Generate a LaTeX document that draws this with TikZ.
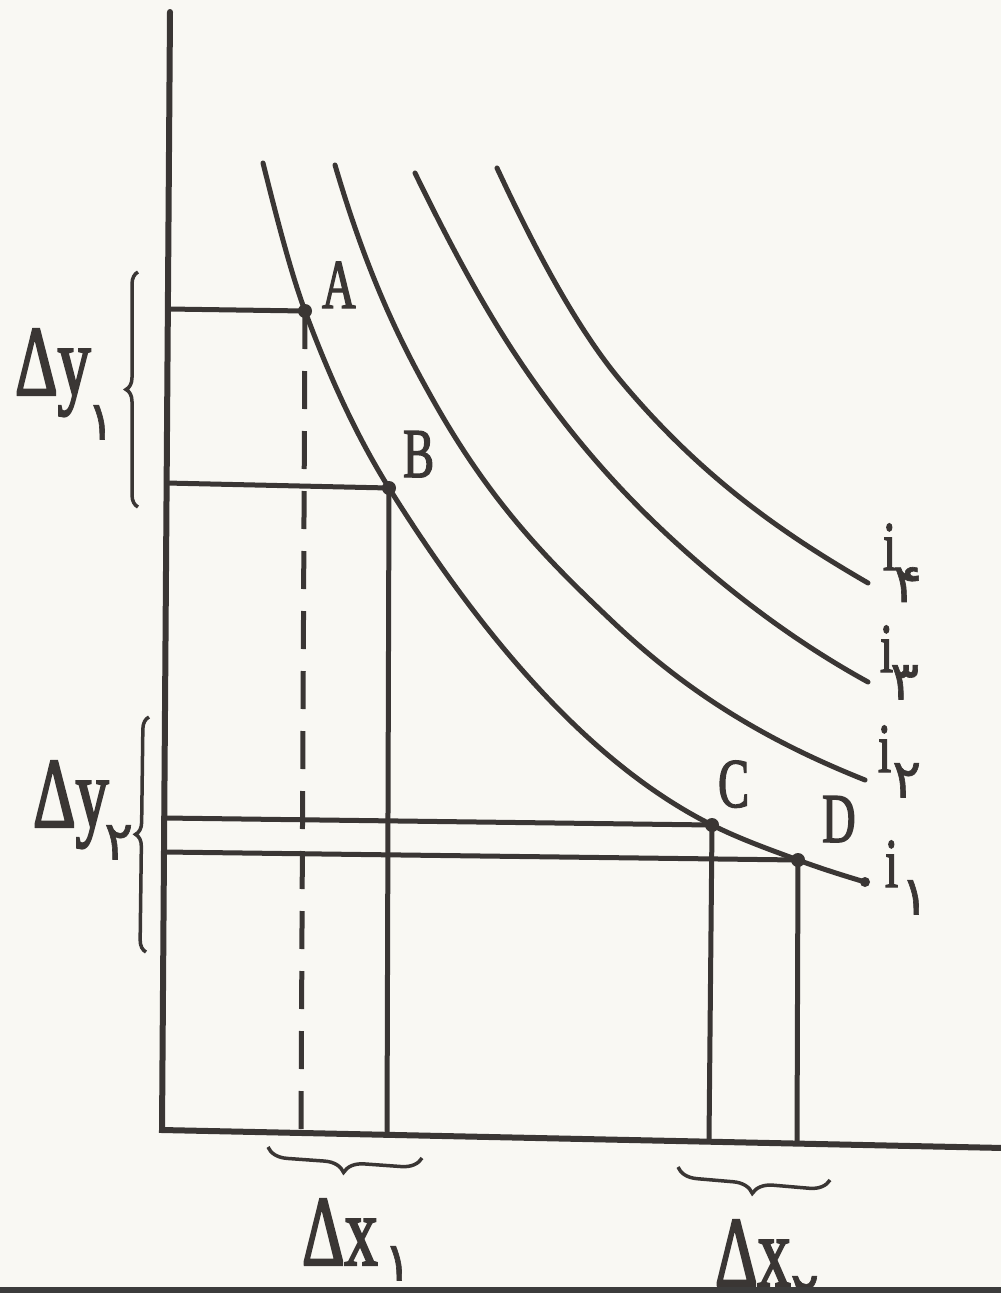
\documentclass[tikz,border=0pt]{standalone}
\usepackage{fontspec}
\setmainfont{Liberation Serif}[FakeStretch=0.66, FakeBold=2]
\newfontfamily\fadig{DejaVu Sans}[Script=Arabic, FakeBold=1.2]
\usetikzlibrary{decorations.pathreplacing}
\definecolor{ink}{HTML}{3A3634}
\definecolor{paper}{HTML}{F9F8F3}
\definecolor{barc}{HTML}{3C3C3C}
\begin{document}
\begin{tikzpicture}[x=1pt,y=-1pt,
  curve/.style={draw=ink, line width=5pt, line cap=round},
  axisline/.style={draw=ink, line width=6pt, line cap=round},
  guide/.style={draw=ink, line width=5pt},
  dashguide/.style={draw=ink, line width=5pt, dash pattern=on 38pt off 22pt},
  dot/.style={circle, fill=ink, inner sep=0pt, minimum size=14pt},
  lbl/.style={text=ink, font=\fontsize{70}{70}\selectfont, inner sep=0pt, anchor=base west},
  dlbl/.style={text=ink, font=\fontsize{100}{100}\selectfont, inner sep=0pt, anchor=base west},
  sub/.style={text=ink, font=\fadig\fontsize{54}{54}\selectfont, inner sep=0pt, anchor=north west},
  bracey/.style={draw=ink, line width=3.5pt, decorate, decoration={brace, amplitude=12pt}},
  bracex/.style={draw=ink, line width=3.5pt, decorate, decoration={brace, amplitude=20pt}}]
\fill[paper] (0,0) rectangle (1001,1293);
\useasboundingbox (0,0) rectangle (1001,1293);

% axes
\coordinate (Ytop) at (170,12);
\coordinate (O) at (162,1130);
\coordinate (Xend) at (1004,1148);
\draw[axisline] (Ytop) -- (O) -- (Xend);

% key points
\coordinate (pA) at (305,311);
\coordinate (pB) at (389,488);
\coordinate (pC) at (712,825);
\coordinate (pD) at (798,860);
\coordinate (pE) at (865,882);

% feet on axes
\coordinate (yA) at (168,309);
\coordinate (yB) at (166,483);
\coordinate (yC) at (164,818);
\coordinate (yD) at (164,852);
\coordinate (xA) at (301,1133);
\coordinate (xB) at (387,1135);
\coordinate (xC) at (709,1141);
\coordinate (xD) at (797,1143);

% guides
\draw[guide] (yA) -- (pA);
\draw[guide] (yB) -- (pB);
\draw[guide] (yC) -- (pC);
\draw[guide] (yD) -- (pD);
\draw[dashguide] (pA) -- (xA);
\draw[guide] (pB) -- (xB);
\draw[guide] (pC) -- (xC);
\draw[guide] (pD) -- (xD);

% indifference curves
\draw[curve] (263,163) .. controls (277,219) and (291,273.2) .. (pA)
  .. controls (333,386.6) and (361,443.2) .. (pB)
  .. controls (496.7,660.3) and (604.3,771.2) .. (pC)
  .. controls (740.7,839.3) and (769.3,849.4) .. (pD)
  .. controls (820.3,868.3) and (842.7,875.3) .. (pE);
\draw[curve] (335,165) .. controls (369,280.6) and (403,347.5) .. (437,407)
  .. controls (495.7,509.7) and (554.3,566.3) .. (613,622)
  .. controls (697,701.8) and (781,746.4) .. (865,780);
\draw[curve] (415,173) .. controls (449,242.7) and (483,306) .. (517,357)
  .. controls (580.3,452) and (643.7,516.2) .. (707,570)
  .. controls (760.7,615.6) and (814.3,652.5) .. (868,682);
\draw[curve] (497,168) .. controls (538,256) and (579,330.8) .. (620,380)
  .. controls (702.7,479.2) and (785.3,535) .. (868,583);

% dots
\node[dot] (A) at (pA) {};
\node[dot] (B) at (pB) {};
\node[dot] (C) at (pC) {};
\node[dot] (D) at (pD) {};
\node[dot, minimum size=10pt] (E) at (pE) {};

% point labels
\node[lbl] (tA) at (322,308) {A};
\node[lbl] (tB) at (403,477) {B};
\node[lbl] (tC) at (718,807) {C};
\node[lbl] (tD) at (822,842) {D};

% curve labels
\node[lbl] (ti4) at (883,570) {i};
\node[sub] (si4) at (893,567) {۴};
\node[lbl] (ti3) at (880,672) {i};
\node[sub] (si3) at (890,665) {۳};
\node[lbl] (ti2) at (878,772) {i};
\node[sub] (si2) at (892,763) {۲};
\node[lbl] (ti1) at (885,887) {i};
\node[sub] (si1) at (900,880) {۱};

% braces
\coordinate (by1a) at (138,507);
\coordinate (by1b) at (138,272);
\draw[bracey] (by1a) -- (by1b);
\coordinate (by2a) at (146,952);
\coordinate (by2b) at (149,717);
\draw[bracey] (by2a) -- (by2b);
\coordinate (bx1a) at (422,1158);
\coordinate (bx1b) at (268,1147);
\draw[bracex] (bx1a) -- (bx1b);
\coordinate (bx2a) at (830,1180);
\coordinate (bx2b) at (678,1167);
\draw[bracex] (bx2a) -- (bx2b);

% delta labels
\node[dlbl] (dy1) at (15,395) {Δy};
\node[sub] (sy1) at (86,405) {۱};
\node[dlbl] (dy2) at (33,827) {Δy};
\node[sub] (sy2) at (104,825) {۲};
\node[dlbl] (dx1) at (302,1265) {Δx};
\node[sub] (sx1) at (383,1246) {۱};
\node[dlbl] (dx2) at (715,1286) {Δx};
\node[sub] (sx2) at (790,1276) {۲};

% bottom bar
\fill[barc] (0,1287) rectangle (1001,1293);
\end{tikzpicture}
\end{document}
